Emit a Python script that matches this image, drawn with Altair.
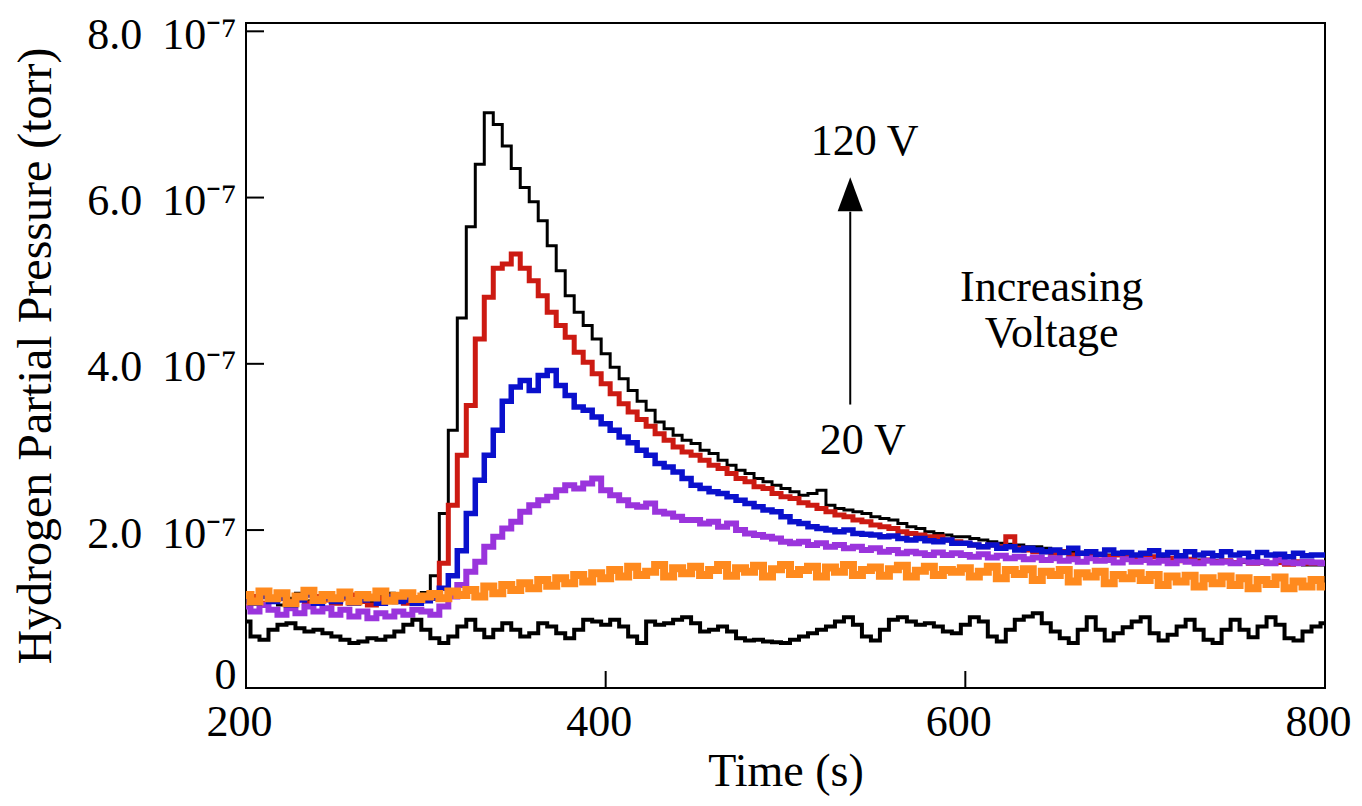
import altair as alt
import pandas as pd

# ---- data (pressure in units of 1e-7 torr), sampled every 5 s from 200 s to 800 s ----
T_START = 200
T_STEP = 5

v120 = [
    1.20, 1.14, 1.22, 1.16, 1.10, 1.18, 1.24, 1.15, 1.12, 1.20,
    1.16, 1.22, 1.12, 1.18, 1.14, 1.20, 1.24, 1.16, 1.12, 1.18,
    1.25, 1.45, 2.20, 3.20, 4.55, 5.65, 6.40, 7.02, 6.88, 6.62,
    6.35, 6.12, 5.95, 5.72, 5.42, 5.12, 4.82, 4.62, 4.46, 4.30,
    4.12, 3.96, 3.82, 3.68, 3.55, 3.44, 3.30, 3.22, 3.14, 3.08,
    3.04, 2.96, 2.92, 2.84, 2.78, 2.72, 2.68, 2.62, 2.58, 2.54,
    2.50, 2.46, 2.42, 2.44, 2.48, 2.30, 2.26, 2.24, 2.22, 2.20,
    2.16, 2.14, 2.12, 2.08, 2.04, 2.02, 1.98, 1.96, 1.94, 1.92,
    1.92, 1.90, 1.88, 1.86, 1.84, 1.83, 1.82, 1.80, 1.80, 1.78,
    1.76, 1.75, 1.74, 1.73, 1.72, 1.71, 1.70, 1.70, 1.69, 1.68,
    1.68, 1.67, 1.66, 1.66, 1.65, 1.64, 1.64, 1.63, 1.63, 1.62,
    1.62, 1.61, 1.61, 1.60, 1.60, 1.60, 1.59, 1.59, 1.58, 1.58,
    1.58,
]

v_red = [
    1.15, 1.20, 1.12, 1.18, 1.22, 1.14, 1.18, 1.12, 1.20, 1.16,
    1.12, 1.18, 1.22, 1.14, 1.10, 1.18, 1.15, 1.20, 1.12, 1.16,
    1.18, 1.24, 1.60, 2.30, 2.90, 3.50, 4.30, 4.80, 5.15, 5.20,
    5.32, 5.15, 5.00, 4.82, 4.62, 4.46, 4.32, 4.14, 4.02, 3.88,
    3.76, 3.64, 3.52, 3.42, 3.33, 3.25, 3.16, 3.08, 3.00, 2.94,
    2.90, 2.84, 2.78, 2.74, 2.68, 2.62, 2.58, 2.52, 2.50, 2.44,
    2.40, 2.38, 2.33, 2.30, 2.26, 2.22, 2.18, 2.16, 2.12, 2.10,
    2.06, 2.04, 2.02, 1.98, 1.96, 1.94, 1.92, 1.92, 1.88, 1.86,
    1.84, 1.82, 1.80, 1.82, 1.80, 1.92, 1.78, 1.76, 1.74, 1.74,
    1.72, 1.74, 1.70, 1.72, 1.69, 1.70, 1.68, 1.70, 1.67, 1.66,
    1.66, 1.68, 1.64, 1.66, 1.63, 1.65, 1.62, 1.64, 1.62, 1.63,
    1.61, 1.63, 1.60, 1.62, 1.60, 1.61, 1.59, 1.62, 1.60, 1.60,
    1.60,
]

v_blue = [
    1.16, 1.12, 1.20, 1.14, 1.18, 1.10, 1.16, 1.22, 1.12, 1.18,
    1.14, 1.20, 1.12, 1.16, 1.18, 1.12, 1.20, 1.14, 1.16, 1.12,
    1.15, 1.18, 1.30, 1.45, 1.75, 2.20, 2.60, 2.90, 3.20, 3.55,
    3.72, 3.80, 3.68, 3.86, 3.92, 3.74, 3.62, 3.48, 3.44, 3.36,
    3.28, 3.20, 3.12, 3.05, 2.96, 2.90, 2.80, 2.76, 2.70, 2.62,
    2.54, 2.50, 2.46, 2.44, 2.40, 2.36, 2.32, 2.28, 2.24, 2.22,
    2.16, 2.10, 2.08, 2.04, 2.02, 2.00, 1.98, 2.00, 1.96, 1.95,
    1.94, 1.92, 1.93, 1.90, 1.88, 1.90, 1.87, 1.86, 1.88, 1.84,
    1.84, 1.82, 1.80, 1.82, 1.78, 1.80, 1.76, 1.78, 1.76, 1.74,
    1.76, 1.73, 1.78, 1.72, 1.74, 1.71, 1.76, 1.72, 1.73, 1.70,
    1.72, 1.75, 1.70, 1.73, 1.69, 1.74, 1.70, 1.72, 1.69, 1.74,
    1.70, 1.72, 1.68, 1.73, 1.70, 1.71, 1.68, 1.72, 1.69, 1.70,
    1.70,
]

v_purple = [
    1.08, 1.02, 1.10, 1.04, 0.98, 1.06, 1.00, 1.08, 1.02, 1.06,
    0.98, 1.04, 0.96, 1.02, 0.94, 1.00, 0.96, 1.02, 0.98, 1.04,
    1.02, 0.98, 1.08, 1.20, 1.34, 1.50, 1.62, 1.80, 1.92, 2.02,
    2.10, 2.22, 2.30, 2.36, 2.40, 2.48, 2.54, 2.50, 2.56, 2.62,
    2.48, 2.42, 2.36, 2.30, 2.28, 2.32, 2.22, 2.20, 2.16, 2.12,
    2.12, 2.08, 2.10, 2.04, 2.08, 2.00, 1.96, 1.94, 1.92, 1.90,
    1.86, 1.84, 1.86, 1.82, 1.84, 1.80, 1.82, 1.78, 1.80, 1.76,
    1.78, 1.74, 1.76, 1.72, 1.74, 1.72, 1.70, 1.73, 1.70, 1.72,
    1.70, 1.68, 1.71, 1.67, 1.69, 1.66, 1.68, 1.65, 1.67, 1.64,
    1.66, 1.63, 1.65, 1.62, 1.66, 1.63, 1.64, 1.61, 1.65, 1.62,
    1.64, 1.61, 1.63, 1.60, 1.64, 1.62, 1.60, 1.63, 1.61, 1.62,
    1.60, 1.63, 1.61, 1.62, 1.60, 1.64, 1.61, 1.60, 1.62, 1.61,
    1.60,
]

v_orange = [
    1.22, 1.14, 1.26, 1.18, 1.24, 1.12, 1.20, 1.27, 1.16, 1.22,
    1.18, 1.25, 1.14, 1.22, 1.19, 1.26, 1.15, 1.21, 1.24, 1.17,
    1.20, 1.23, 1.18, 1.26, 1.22, 1.28, 1.20, 1.32, 1.24, 1.34,
    1.28, 1.36, 1.30, 1.40, 1.33, 1.42, 1.36, 1.46, 1.38, 1.48,
    1.42, 1.52, 1.44, 1.56, 1.46, 1.50, 1.58, 1.44, 1.54, 1.48,
    1.56, 1.46, 1.52, 1.58, 1.45, 1.54, 1.50, 1.57, 1.44, 1.53,
    1.58, 1.47, 1.52, 1.56, 1.44, 1.55, 1.50, 1.58, 1.46, 1.52,
    1.55, 1.45, 1.53, 1.57, 1.44, 1.51, 1.56, 1.46, 1.52, 1.50,
    1.54, 1.44, 1.50, 1.56, 1.42, 1.52, 1.47, 1.53, 1.40, 1.50,
    1.46, 1.52, 1.38, 1.48, 1.44, 1.50, 1.36, 1.46, 1.42, 1.48,
    1.40, 1.46, 1.34, 1.44, 1.38, 1.45, 1.32, 1.42, 1.36, 1.44,
    1.34, 1.42, 1.30, 1.40, 1.35, 1.43, 1.30, 1.38, 1.32, 1.40,
    1.32,
]

v_base = [
    0.90, 0.72, 0.68, 0.80, 0.86, 0.88, 0.82, 0.78, 0.80, 0.76,
    0.72, 0.68, 0.64, 0.66, 0.70, 0.68, 0.72, 0.78, 0.86, 0.92,
    0.80, 0.70, 0.64, 0.72, 0.84, 0.92, 0.80, 0.71, 0.80, 0.88,
    0.80, 0.72, 0.76, 0.88, 0.84, 0.76, 0.70, 0.80, 0.92, 0.90,
    0.86, 0.92, 0.84, 0.72, 0.64, 0.90, 0.86, 0.88, 0.92, 0.95,
    0.88, 0.78, 0.80, 0.84, 0.78, 0.70, 0.67, 0.68, 0.66, 0.65,
    0.64, 0.68, 0.72, 0.76, 0.80, 0.84, 0.90, 0.95, 0.86, 0.72,
    0.67, 0.80, 0.92, 0.95, 0.90, 0.86, 0.88, 0.84, 0.78, 0.76,
    0.86, 0.95, 0.90, 0.72, 0.66, 0.80, 0.92, 0.96, 1.00, 0.88,
    0.78, 0.70, 0.64, 0.80, 0.95, 0.80, 0.67, 0.76, 0.83, 0.90,
    0.95, 0.76, 0.67, 0.74, 0.84, 0.92, 0.80, 0.68, 0.64, 0.80,
    0.92, 0.80, 0.71, 0.84, 0.95, 0.86, 0.70, 0.67, 0.78, 0.84,
    0.88,
]

# series: name, values, colour, line width (drawing order = list order)
series_names = ["120 V", "red run", "purple run", "blue run", "20 V", "background"]
series_values = [v120, v_red, v_purple, v_blue, v_orange, v_base]
series_colors = ["#000000", "#cc1a12", "#9a34dc", "#0a10cc", "#ff8a1e", "#000000"]
series_widths = [3.0, 5.0, 6.0, 5.5, 8.0, 4.0]

x_ticks = [400, 600]
y_ticks = [2, 4, 6, 8]
y_label_values = [0.3, 2, 4, 6, 8]   # 0.3 position carries the "0" label as drawn in the original
x_label_values = [200, 400, 600, 800]

ann_text = ["120 V", "20 V", "Increasing\nVoltage"]
ann_t = [544, 543, 648]
ann_v = [6.67, 3.07, 4.91]

arrow_t = [536]
arrow_v0 = [3.51]
arrow_v1 = [5.83]
arrow_head_v = [6.04]

FONT = "Liberation Serif"

xscale = alt.Scale(domain=[200, 800], nice=False, zero=False)
yscale = alt.Scale(domain=[0.1, 8.1], nice=False, zero=False)

xaxis = alt.Axis(
    values=x_label_values, ticks=False, domain=False, grid=False,
    labelFont=FONT, labelFontSize=44, labelColor="black", labelPadding=12,
    labelFlush=False, labelOverlap=False, labelOffset=-7,
    title="Time (s)", titleFont=FONT, titleFontSize=46, titleFontWeight="normal",
    titleColor="black", titleBaseline="alphabetic", titleY=97)
yaxis = alt.Axis(
    values=y_label_values, ticks=False, domain=False, grid=False,
    labelExpr="datum.value < 1 ? '0' : format(datum.value, '.1f') + '\u2009 10⁻⁷'",
    labelFont=FONT, labelFontSize=44, labelColor="black", labelPadding=10,
    labelOverlap=False, labelFlush=False, labelOffset=4,
    title="Hydrogen Partial Pressure (torr)", titleFont=FONT, titleFontSize=48,
    titleFontWeight="normal", titleColor="black", titleBaseline="alphabetic",
    titleX=-196)


def X(field):
    return alt.X(field, scale=xscale, axis=xaxis)


def Y(field):
    return alt.Y(field, scale=yscale, axis=yaxis)


layers = []
for name, vals, col, w in zip(series_names, series_values, series_colors, series_widths):
    assert len(vals) == 121, (name, len(vals))
    df = pd.DataFrame({
        "t": [T_START + T_STEP * k for k in range(len(vals))],
        "p": vals,
        "series": name,
    })
    layers.append(
        alt.Chart(df).mark_line(color=col, strokeWidth=w, interpolate="step", clip=True)
        .encode(x=X("t:Q"), y=Y("p:Q"))
    )

# inward tick marks
xt = pd.DataFrame({"t": x_ticks})
layers.append(alt.Chart(xt).mark_rule(color="black", strokeWidth=2).encode(
    x=X("t:Q"), y=alt.value(665), y2=alt.value(648)))
yt = pd.DataFrame({"p": y_ticks})
layers.append(alt.Chart(yt).mark_rule(color="black", strokeWidth=2).encode(
    y=Y("p:Q"), x=alt.value(0), x2=alt.value(18)))

# arrow
arr = pd.DataFrame({"t": arrow_t, "p": arrow_v0, "p2": arrow_v1, "ph": arrow_head_v})
layers.append(alt.Chart(arr).mark_rule(color="black", strokeWidth=2).encode(
    x=X("t:Q"), y=Y("p:Q"), y2="p2:Q"))
layers.append(alt.Chart(arr).mark_point(
    shape="M0,-1L0.74,1L-0.74,1Z", filled=True, color="black", opacity=1, size=1156, strokeWidth=0
).encode(x=X("t:Q"), y=Y("ph:Q")))

# annotations
ann = pd.DataFrame({"t": ann_t, "p": ann_v, "txt": ann_text})
layers.append(alt.Chart(ann).mark_text(
    font=FONT, fontSize=44, color="black", align="center", baseline="middle",
    lineBreak="\n", lineHeight=46
).encode(x=X("t:Q"), y=Y("p:Q"), text="txt:N"))

chart = alt.layer(*layers).properties(
    width=1079, height=665,
    autosize=alt.AutoSizeParams(type="none"),
    padding={"left": 238, "top": 15, "right": 27, "bottom": 108},
    background="white",
).configure_view(stroke="black", strokeWidth=2)

chart.save("out.html", embed_options={"renderer": "svg", "actions": False})
